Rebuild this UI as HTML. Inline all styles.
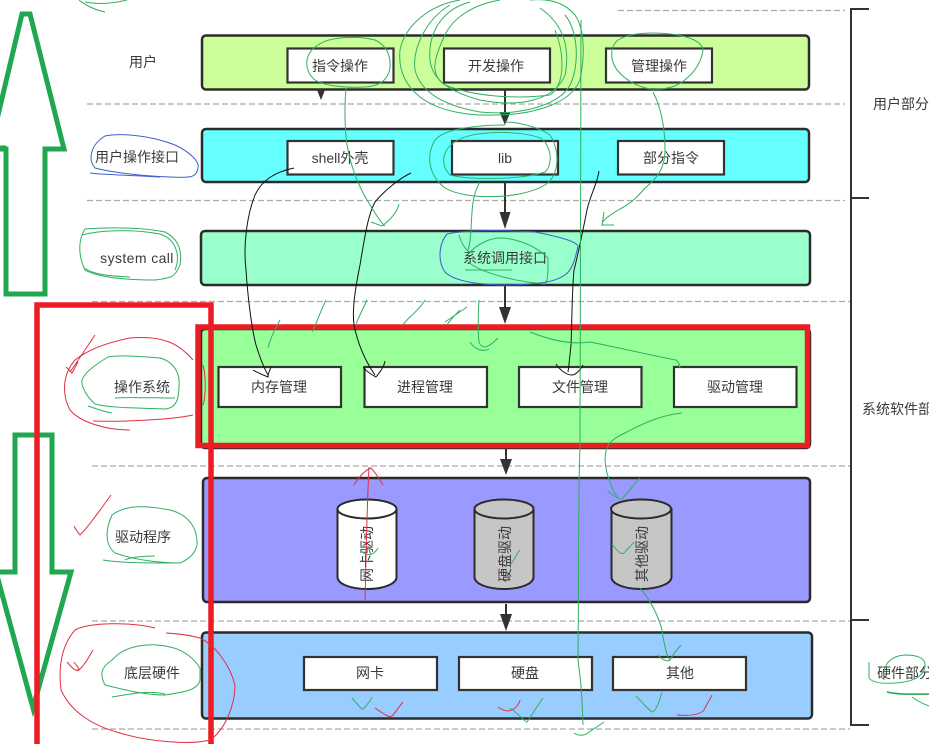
<!DOCTYPE html>
<html><head><meta charset="utf-8"><style>
html,body{margin:0;padding:0;background:#fff;width:929px;height:744px;overflow:hidden}
svg{display:block}
text{font-family:"Liberation Sans","Noto Sans CJK SC",sans-serif;font-size:14px;fill:#3a3a3a;text-anchor:middle}
.band{stroke:#2b2b2b;stroke-width:2.5}
.box{fill:#fff;stroke:#333;stroke-width:2.2}
.d{stroke:#aaa;stroke-width:1.2;stroke-dasharray:6 3;fill:none}
.g{fill:none;stroke:#2fb060;stroke-width:1}
.k{fill:none;stroke:#111;stroke-width:1}
.r{fill:none;stroke:#e03040;stroke-width:1}
.b{fill:none;stroke:#4060c8;stroke-width:1}
.a{stroke:#333;stroke-width:2;fill:none}
.h{fill:#333}
.G{fill:none;stroke:#1fa84f;stroke-width:5}
.R{fill:none;stroke:#ec1c24;stroke-width:5.500}
.c{stroke:#2b2b2b;stroke-width:2}
</style></head><body>
<svg width="929" height="744" viewBox="0 0 929 744" xmlns="http://www.w3.org/2000/svg">
<!-- dashed -->
<path class="d" d="M618 10.500H845M87 104H845M87 200.500H845M92 301.500H850M92 466H850M92 621H850M92 729H850"/>
<!-- right bracket -->
<path d="M869 9H851V725H869M851 198H869M851 620H869" fill="none" stroke="#333" stroke-width="2"/>
<!-- bands -->
<rect class="band" x="202" y="35.500" width="607" height="54" rx="4" fill="#ccff99"/>
<rect class="band" x="202" y="129" width="607" height="53" rx="4" fill="#66ffff"/>
<rect class="band" x="201" y="231" width="609" height="54" rx="4" fill="#99ffcc"/>
<rect class="band" x="201" y="329" width="609" height="119" rx="4" fill="#99ff99"/>
<rect class="band" x="203" y="478" width="607" height="124" rx="4" fill="#9999ff"/>
<rect class="band" x="202" y="632.500" width="610" height="86" rx="4" fill="#99ccff"/>
<!-- boxes -->
<rect class="box" x="287.500" y="48.500" width="106" height="34"/>
<rect class="box" x="444" y="48.500" width="106" height="34"/>
<rect class="box" x="606" y="48.500" width="106" height="34"/>
<rect class="box" x="287.500" y="141" width="106" height="33.500"/>
<rect class="box" x="452" y="141" width="106" height="33.500"/>
<rect class="box" x="618" y="141" width="106" height="33.500"/>
<rect class="box" x="218.500" y="367" width="122.500" height="40"/>
<rect class="box" x="364.500" y="367" width="122.500" height="40"/>
<rect class="box" x="519" y="367" width="122.500" height="40"/>
<rect class="box" x="674" y="367" width="122.500" height="40"/>
<rect class="box" x="304" y="657" width="133" height="33"/>
<rect class="box" x="459" y="657" width="133" height="33"/>
<rect class="box" x="613" y="657" width="133" height="33"/>
<!-- cylinders -->
<g class="c">
<path d="M337.500 509V577C337.500 584 351 589 367 589C383 589 396.500 584 396.500 577V509Z" fill="#fff"/>
<ellipse cx="367" cy="509" rx="29.500" ry="9.500" fill="#fff"/>
<path d="M474.500 509V577C474.500 584 488 589 504 589C520 589 533.500 584 533.500 577V509Z" fill="#c6c6c6"/>
<ellipse cx="504" cy="509" rx="29.500" ry="9.500" fill="#c6c6c6"/>
<path d="M611.500 509V577C611.500 584 625 589 641 589C657 589 671.500 584 671.500 577V509Z" fill="#c6c6c6"/>
<ellipse cx="641" cy="509" rx="30" ry="9.500" fill="#c6c6c6"/>
</g>
<!-- arrows -->
<path class="a" d="M505 89V112M505 182V214M505 285V310M506 448V462M506 604V620"/>
<path class="h" d="M499.500 112H510.500L505 125ZM499.500 212H510.500L505 229ZM499 307H511L505 324ZM500 459H512L506 475ZM500 614H512L506 631ZM317 90H325L321 100Z"/>
<!-- labels -->
<text x="143" y="67">用户</text>
<text x="137" y="162">用户操作接口</text>
<text x="137" y="263" style="letter-spacing:.4px">system call</text>
<text x="142" y="392">操作系统</text>
<text x="143" y="542">驱动程序</text>
<text x="152" y="678">底层硬件</text>
<text x="340" y="71">指令操作</text>
<text x="496" y="71">开发操作</text>
<text x="659" y="71">管理操作</text>
<text x="340" y="163">shell外壳</text>
<text x="505" y="163">lib</text>
<text x="671" y="163">部分指令</text>
<text x="505" y="263">系统调用接口</text>
<text x="279" y="392">内存管理</text>
<text x="425" y="392">进程管理</text>
<text x="580" y="392">文件管理</text>
<text x="735" y="392">驱动管理</text>
<text x="370" y="678">网卡</text>
<text x="525" y="678">硬盘</text>
<text x="680" y="678">其他</text>
<text transform="translate(372 554) rotate(-90)">网卡驱动</text>
<text transform="translate(510 554) rotate(-90)">硬盘驱动</text>
<text transform="translate(647 554) rotate(-90)">其他驱动</text>
<text x="901" y="109">用户部分</text>
<text x="904" y="414">系统软件部分</text>
<text x="905" y="678">硬件部分</text>
<!-- thick green arrows -->
<path class="G" d="M22 14H30L64 149H45V294H6V149H-10L22 14Z"/>
<path class="G" d="M15 435H52V572H71L33 708L-4 572H15Z"/>
<path class="G" d="M0 572H15M-2 148H6"/>
<!-- red frames -->
<rect class="R" x="198" y="327" width="609.500" height="118.500"/>
<path class="R" d="M37 744V305H211V744"/>
<!-- black hand lines -->
<path class="k" d="M294 168C275 172 262 180 255 195C247 215 243 245 246 270C248 300 252 330 256 345C260 358 264 368 268 375M253 370C258 373 263 375 268 377C268 373 270 370 271 367"/>
<path class="k" d="M411 173C400 178 385 190 375 202C368 215 365 235 360 265C355 290 352 310 354 325C358 345 366 362 375 375M363 367C367 372 372 375 376 377C380 372 384 367 385 361"/>
<path class="k" d="M599 171C597 185 590 195 587 210C583 230 578 255 574 270C572 290 572 320 571 345C570 355 569 365 568 372M556 364C560 370 566 375 572 375C576 375 581 369 583 365"/>
<!-- green thin lines -->
<path class="g" d="M581 20C582 60 580 250 580 445C578 500 579 560 578 660C582 690 582 700 583 725M574 733C580 737 586 735 589 732C595 728 600 725 604 722"/>
<path class="g" d="M318 45C330 36 360 36 375 40C386 45 391 55 390 68C388 80 380 86 365 87C345 88 325 86 315 80C305 72 302 55 318 45Z"/>
<path class="g" d="M346 88C344 110 345 135 348 150C352 170 360 190 372 208C378 218 382 224 385 226M371 222L382 226C390 220 397 213 399 204"/>
<path class="g" d="M618 40C630 33 650 32 670 34C690 36 702 42 703 50C702 60 695 72 687 78C678 87 665 90 650 89C630 85 614 72 612 58C611 50 613 44 618 40Z"/>
<path class="g" d="M653 92C660 105 665 125 665 150C665 170 655 180 645 188C635 200 628 205 620 209C612 214 605 218 603 222M604 212L602 225H614"/>
<path class="g" d="M460 0C430 5 405 25 400 50C398 70 405 85 420 97C440 112 470 116 495 115C530 115 570 105 580 80C585 55 585 30 575 15C565 3 550 -2 530 0"/>
<path class="g" d="M450 5C425 20 412 50 415 70C420 90 440 105 480 112C520 116 560 105 570 85C580 65 578 30 565 15"/>
<path class="g" d="M470 2C440 10 428 35 430 60C432 80 450 92 480 100C520 108 555 100 565 75C570 50 565 25 540 8"/>
<path class="g" d="M500 0C470 5 452 20 445 35C433 60 430 75 445 85C470 95 510 100 550 95C565 85 565 55 555 30"/>
<path class="g" d="M505 125C480 125 445 128 435 140C426 155 428 175 445 188C465 200 520 200 545 185C560 175 560 150 550 135C540 128 520 122 505 122"/>
<path class="g" d="M455 142C470 130 520 130 540 138C552 145 553 165 545 172C520 180 470 180 450 175C440 165 442 150 455 142Z"/>
<path class="g" d="M480 182C472 195 472 210 471 230C470 245 468 250 468 250M459 235C462 245 466 250 470 252C478 244 490 238 500 238C515 238 535 245 548 258C548 275 548 280 545 284C520 282 485 275 468 262"/>
<path class="g" d="M465 270H512"/>
<path class="g" d="M479 300C478 315 478 335 479 342C482 350 488 348 498 338M470 342C475 350 484 352 489 349"/>
<path class="g" d="M530 332C550 340 570 345 590 342C620 348 650 355 676 360C681 365 681 370 678 365"/>
<path class="g" d="M682 413C660 415 640 425 625 433C610 440 605 445 605 460C606 475 612 490 618 498M608 491C615 497 620 500 622 499C630 490 635 483 640 478"/>
<path class="g" d="M640 588C650 600 658 615 662 630C664 645 668 660 670 660M658 655C662 660 668 662 670 660C673 655 678 648 681 645"/>
<path class="g" d="M280 320C275 330 270 338 268 348M326 300C320 312 316 325 312 332M367 300C360 315 355 325 357 323M425 300C418 312 405 320 403 325M460 310C455 315 450 320 447 325M467 307L445 322"/>
<path class="g" d="M108 357C120 355 135 356 160 358C175 362 180 375 179 385C179 400 176 408 165 409C140 408 110 408 95 404C85 395 81 385 82 380C85 372 95 365 108 357Z"/>
<path class="g" d="M115 398C135 397 155 398 175 398M88 406C100 410 105 412 112 413"/>
<path class="g" d="M112 515C125 505 145 505 170 510C190 515 198 530 197 545C195 555 187 560 180 563C160 563 135 560 115 553C105 545 105 530 112 515Z"/>
<path class="g" d="M103 560C120 563 150 563 180 563M125 560C130 557 145 556 155 556"/>
<path class="g" d="M112 660C125 645 150 642 170 647C185 650 195 660 200 668L200 680C198 690 185 692 165 695C145 695 125 690 105 685C100 675 100 668 112 660Z"/>
<path class="g" d="M112 697C130 694 150 690 165 694"/>
<path class="g" d="M352 698C358 705 362 710 363 709C368 704 371 700 372 697M510 708C520 715 525 722 527 722C532 715 538 705 543 698M636 696C645 705 650 712 653 712C658 708 660 698 662 692"/>
<path class="g" d="M360 550C365 555 372 558 378 548M510 565C515 560 517 552 520 550M612 544C618 552 622 556 625 552C628 548 632 545 634 542"/>
<path class="g" d="M85 229C100 228 135 226 165 232C180 240 182 252 180 265C175 278 170 278 155 280C130 280 100 278 85 270C78 255 78 240 85 229Z"/>
<path class="g" d="M82 235C100 230 135 229 160 234C178 240 180 258 175 270M84 268C95 275 110 276 130 277"/>
<path class="g" d="M79 0C85 5 95 10 105 12M85 2C100 5 115 3 127 0"/>
<path class="g" d="M869 662V678C872 682 880 684 895 683C915 682 925 675 925 665C925 657 915 655 905 655C890 656 882 665 884 680"/>
<path d="M887 692C900 695 915 694 929 694" fill="none" stroke="#1fa84f" stroke-width="1.500"/>
<path class="g" d="M912 697C918 702 924 704 929 706"/>
<!-- blue -->
<path class="b" d="M105 136C120 133 150 135 175 145C190 152 200 162 198 168C196 178 190 178 170 177C140 176 110 172 95 168C88 160 90 145 105 136Z"/>
<path class="b" d="M90 173C105 175 130 175 160 177"/>
<path class="b" d="M447 234C465 230 500 230 535 232C550 235 575 240 578 246C575 260 572 270 565 275C555 282 540 284 510 285C480 285 455 282 445 272C438 262 438 245 447 234Z"/>
<!-- red thin -->
<path class="r" d="M193 360C180 345 165 335 130 338C110 342 90 348 75 360C62 375 62 395 70 410C80 422 105 430 130 430M93 421C120 422 170 420 193 415"/>
<path class="r" d="M95 335C85 350 75 365 70 372M66 367L72 373L78 362"/>
<path class="r" d="M203 365C206 375 206 395 203 405"/>
<path class="r" d="M155 628C130 622 90 622 75 630C62 645 58 665 61 690C70 710 90 725 120 733C150 742 190 745 210 740C225 730 235 705 235 685C230 665 215 645 200 638C190 635 180 634 166 633"/>
<path class="r" d="M74 662C78 668 82 670 76 670M67 662C72 668 76 672 79 670C85 665 90 655 93 650"/>
<path class="r" d="M111 495C100 510 90 525 80 535C76 530 75 528 74 526"/>
<path class="r" d="M365 600C366 570 366 530 369 467M354 485C358 478 365 470 371 468C376 473 380 480 383 485"/>
<path class="r" d="M375 708C385 715 390 718 392 716C396 712 400 705 403 702"/>
<path class="r" d="M498 707C505 712 510 712 515 708C518 705 520 702 520 700"/>
<path class="r" d="M677 715C690 716 700 715 704 710C706 705 710 700 712 695"/>
</svg>
</body></html>
